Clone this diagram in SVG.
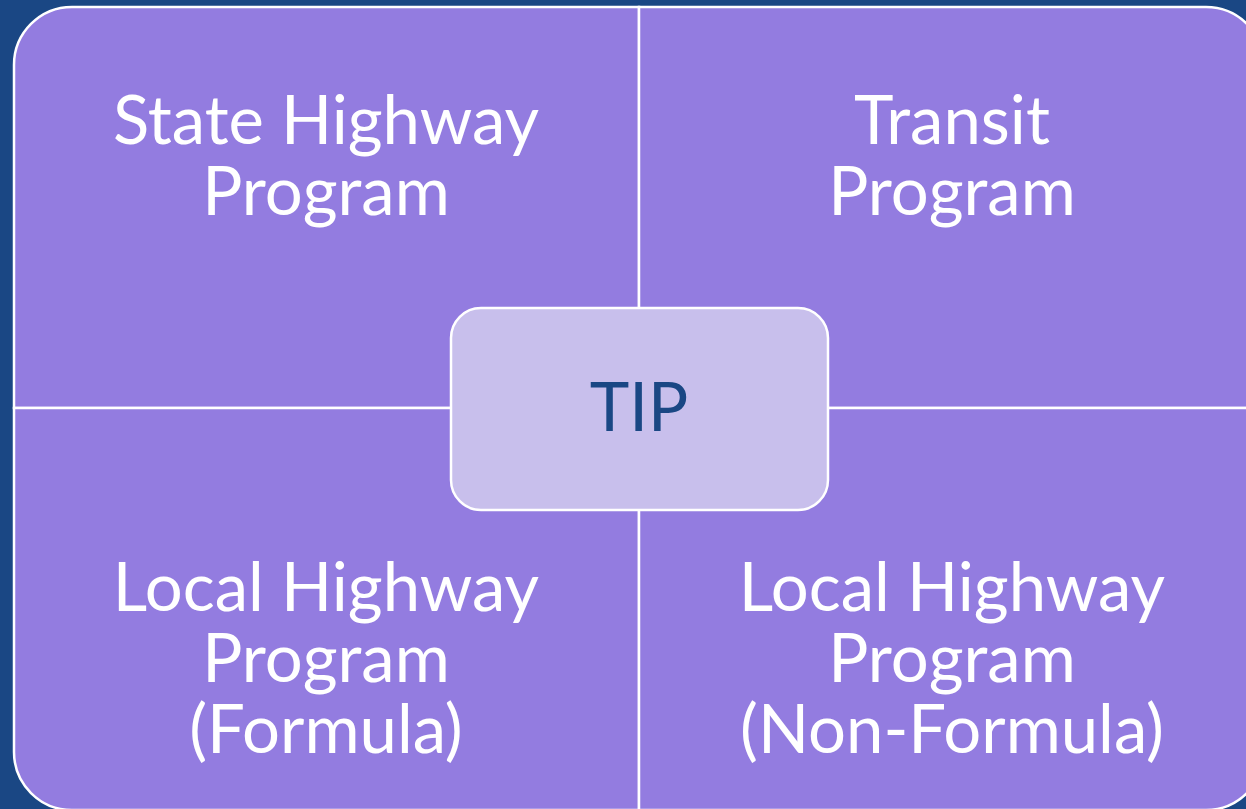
<svg xmlns="http://www.w3.org/2000/svg" width="1246" height="809" viewBox="0 0 1246 809">
<style>
.q{fill:#937ce0;stroke:#ffffff;stroke-width:2.5}
.t{font-family:Lato,"Liberation Sans",sans-serif;font-size:67px;fill:#ffffff;text-anchor:middle}
.c{font-family:Lato,"Liberation Sans",sans-serif;font-size:67px;fill:#1a4784;text-anchor:middle}
</style>
<rect x="0" y="0" width="1246" height="809" fill="#1a4784"/>
<g id="state-highway">
<path class="q" d="M14,408 V65 A58,58 0 0 1 72,7 H639 V408 Z"/>
<text class="t" x="326" y="144">State Highway</text>
<text class="t" x="326" y="215">Program</text>
</g>
<g id="transit">
<path class="q" d="M639,7 H1206 A58,58 0 0 1 1264,65 V408 H639 Z"/>
<text class="t" x="952" y="144">Transit</text>
<text class="t" x="952" y="215">Program</text>
</g>
<g id="local-formula">
<path class="q" d="M14,408 H639 V810 H72 A58,58 0 0 1 14,752 Z"/>
<text class="t" x="326" y="611">Local Highway</text>
<text class="t" x="326" y="682">Program</text>
<text class="t" x="326" y="753">(Formula)</text>
</g>
<g id="local-nonformula">
<path class="q" d="M639,408 H1264 V752 A58,58 0 0 1 1206,810 H639 Z"/>
<text class="t" x="952" y="611">Local Highway</text>
<text class="t" x="952" y="682">Program</text>
<text class="t" x="952" y="753">(Non-Formula)</text>
</g>
<g id="connectors"></g>
<g id="tip">
<rect x="451" y="308" width="377" height="202" rx="30" ry="30" fill="#c8bfec" stroke="#ffffff" stroke-width="2.5"/>
<text class="c" x="639" y="431">TIP</text>
</g>
</svg>
